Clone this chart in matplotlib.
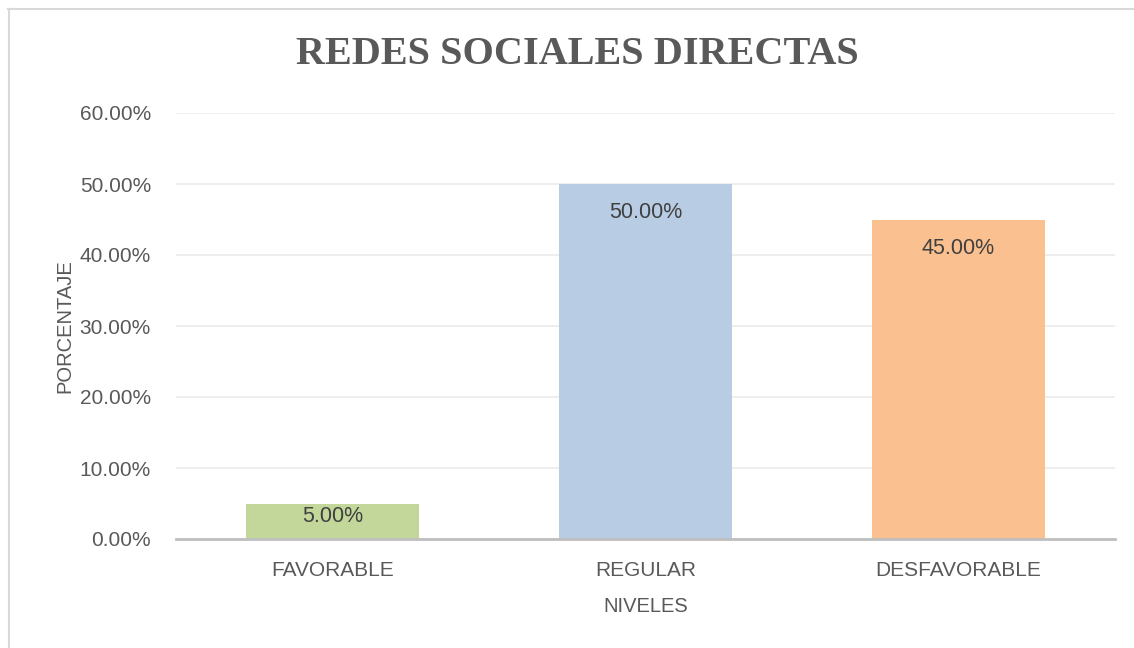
import numpy as np
import matplotlib
matplotlib.use("Agg")
import matplotlib.pyplot as plt
from matplotlib.lines import Line2D

# === DATA ===
niveles = ["FAVORABLE", "REGULAR", "DESFAVORABLE"]
porcentajes = [5.00, 50.00, 45.00]
colores = ["#C4D79B", "#B8CCE4", "#FAC090"]
y_ticks = [0, 10, 20, 30, 40, 50, 60]

plt.rcParams['font.family'] = ['Liberation Sans', 'DejaVu Sans']
txt = "#595959"

fig = plt.figure(figsize=(11.34, 6.48), dpi=100)
ax = fig.add_axes([176 / 1134, 1 - 539 / 648, (1115 - 176) / 1134, (539 - 113) / 648])

x = np.arange(len(niveles))
bars = ax.bar(x, porcentajes, width=0.553, color=colores, zorder=2)

# labels inside the bar end (short bars keep them near the top)
for b, v in zip(bars, porcentajes):
    off = min(2.6, v * 0.08)
    ax.text(b.get_x() + b.get_width() / 2, v - off, f"{v:.2f}%",
            ha="center", va="top", fontsize=15.5, color="#404040", zorder=3)

ax.set_xlim(-0.5, 2.5)
ax.set_ylim(0, 60)
ax.set_yticks(y_ticks)
ax.set_yticklabels([f"{t:.2f}%" for t in y_ticks])
ax.set_xticks(x)
ax.set_xticklabels(niveles)
ax.tick_params(axis="both", length=0, labelsize=15, labelcolor=txt)
ax.tick_params(axis="y", pad=18)
ax.tick_params(axis="x", pad=16)

ax.grid(axis="y", color="#EBEBEB", linewidth=1.2, zorder=0)
for s in ["top", "right", "left"]:
    ax.spines[s].set_visible(False)
ax.spines["bottom"].set_color("#BFBFBF")
ax.spines["bottom"].set_linewidth(2)
ax.spines["bottom"].set_zorder(4)

ax.set_ylabel("PORCENTAJE", fontsize=14.5, color=txt, labelpad=4)
ax.set_xlabel("NIVELES", fontsize=14.5, color=txt, labelpad=12)

fig.text(577 / 1134, 1 - 55 / 648, "REDES SOCIALES DIRECTAS", ha="center", va="center",
         fontsize=29, fontweight="bold", color=txt, family=["Liberation Serif", "DejaVu Serif"])

# chart frame (top and left edges visible)
fig.add_artist(Line2D([8 / 1134, 1], [1 - 8.5 / 648, 1 - 8.5 / 648], color="#D9D9D9", lw=1.5))
fig.add_artist(Line2D([8.5 / 1134, 8.5 / 1134], [0, 1 - 8.5 / 648], color="#D9D9D9", lw=1.5))

fig.savefig("out.png", dpi=100)
